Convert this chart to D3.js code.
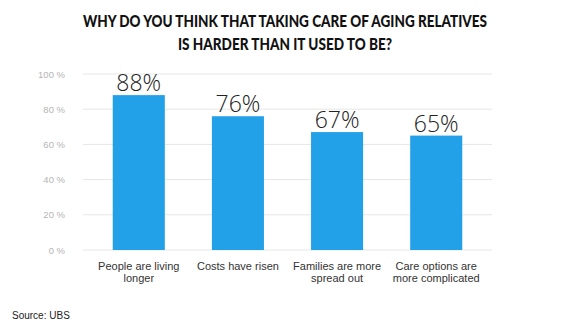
<!DOCTYPE html>
<html><head><meta charset="utf-8">
<script src="https://cdn.jsdelivr.net/npm/d3@7"></script>
<style>body{margin:0;background:#fff;}</style>
</head><body>
<svg id="c" width="570" height="331"></svg>
<script>
const categories = [["People are living","longer"],["Costs have risen"],["Families are more","spread out"],["Care options are","more complicated"]];
const values = [88, 76, 67, 65];
const yTicks = [0, 20, 40, 60, 80, 100];
const titleLines = ["WHY DO YOU THINK THAT TAKING CARE OF AGING RELATIVES","IS HARDER THAN IT USED TO BE?"];
const source = "Source: UBS";

const svg = d3.select("#c");
const x = d3.scaleBand().domain(d3.range(values.length)).range([83, 492]).paddingInner(0.475).paddingOuter(0.3).align(0.5);
const y = d3.scaleLinear().domain([0, 100]).range([250, 74]);

svg.append("g").selectAll("line").data(yTicks).join("line")
  .attr("x1", 83).attr("x2", 492).attr("y1", d => y(d)).attr("y2", d => y(d))
  .attr("stroke", "#e6e6e6").attr("stroke-width", 1);

const yAxis = d3.axisLeft(y).tickValues(yTicks).tickSize(0).tickPadding(0).tickFormat(d => d + " %");
const ga = svg.append("g").attr("transform", "translate(65,0)").call(yAxis);
ga.select(".domain").remove();
ga.selectAll("text").attr("font-family", "Liberation Sans, Arial, sans-serif").attr("font-size", 9.5).attr("fill", "#b5b5b5");

svg.append("g").selectAll("rect").data(values).join("rect")
  .attr("x", (d, i) => x(i)).attr("width", x.bandwidth())
  .attr("y", d => y(d)).attr("height", d => y(0) - y(d))
  .attr("fill", "#22a0e8");

svg.append("g").selectAll("text").data(values).join("text")
  .attr("x", (d, i) => x(i) + x.bandwidth() / 2).attr("y", d => y(d) - 4)
  .attr("text-anchor", "middle").attr("font-family", "Open Sans, Liberation Sans, sans-serif").attr("font-weight", 300)
  .attr("font-size", 23).attr("fill", "#222").text(d => d + "%");

const cg = svg.append("g").selectAll("text").data(categories).join("text")
  .attr("x", (d, i) => x(i) + x.bandwidth() / 2).attr("y", 270)
  .attr("text-anchor", "middle").attr("font-family", "Liberation Sans, Arial, sans-serif")
  .attr("font-size", 11).attr("fill", "#333");
cg.selectAll("tspan").data(d => d).join("tspan")
  .attr("x", function() { return d3.select(this.parentNode).attr("x"); })
  .attr("dy", (d, i) => i === 0 ? 0 : 12).text(d => d);

svg.append("g").selectAll("text").data(titleLines).join("text")
  .attr("x", 285).attr("y", (d, i) => 27 + i * 23)
  .attr("text-anchor", "middle").attr("font-family", "Lato, DejaVu Sans Condensed, sans-serif")
  .attr("font-weight", 900).attr("font-size", 16).attr("fill", "#111")
  .attr("textLength", (d, i) => i === 0 ? 404 : 214).attr("lengthAdjust", "spacingAndGlyphs")
  .text(d => d);

svg.append("text").attr("x", 12).attr("y", 319).attr("font-family", "Liberation Sans, Arial, sans-serif")
  .attr("font-size", 10).attr("fill", "#222").text(source);
</script>
</body></html>
